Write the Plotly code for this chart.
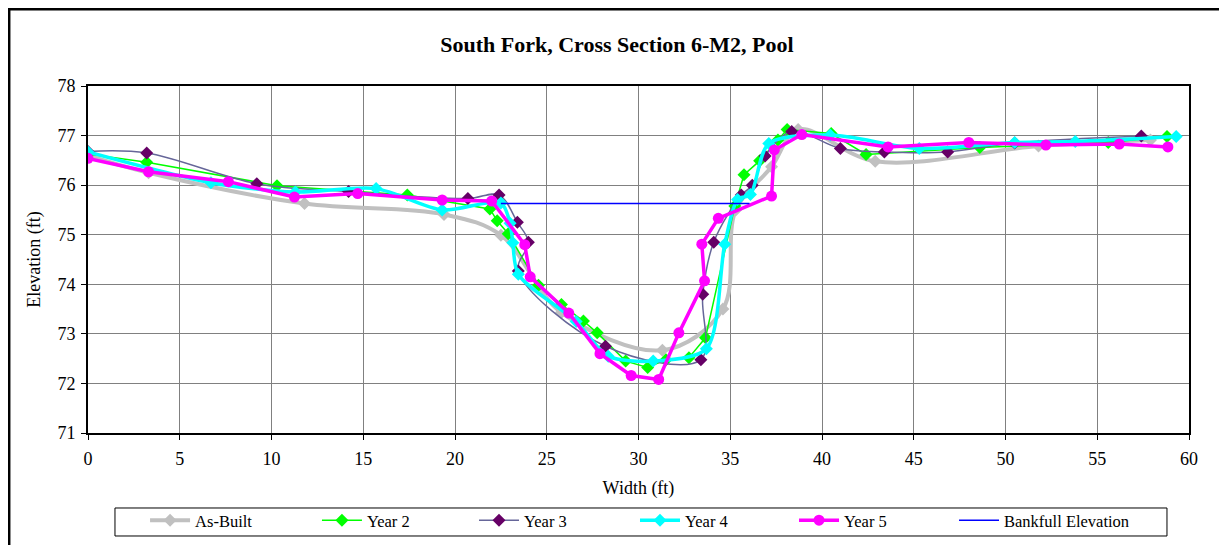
import plotly.graph_objects as go

# Cross section survey data (width ft, elevation ft)
asbuilt_x = [0, 3.3, 11.8, 19.4, 22.5, 25.8, 31.3, 34.6, 35.3, 37.25, 38.7, 42.9, 51.8, 57.9]
asbuilt_y = [76.6, 76.25, 75.63, 75.41, 74.99, 73.43, 72.67, 73.5, 75.5, 76.37, 77.12, 76.48, 76.79, 76.91]

year2_x = [0, 3.2, 10.3, 17.4, 21.9, 22.3, 22.9, 24.55, 25.8, 27.0, 27.75, 29.3, 30.5, 31.5,
           32.75, 33.65, 35.25, 35.75, 36.6, 37.6, 38.1, 40.5, 42.4, 48.6, 55.6, 58.8]
year2_y = [76.63, 76.46, 75.99, 75.8, 75.52, 75.28, 75.02, 73.98, 73.59, 73.26, 73.02, 72.45, 72.32, 72.48,
           72.52, 72.92, 75.58, 76.21, 76.49, 76.91, 77.12, 77.04, 76.62, 76.76, 76.86, 76.98]

year3_x = [0, 3.2, 9.2, 14.2, 20.7, 22.4, 23.4, 24.0, 23.45, 28.2, 33.4, 33.5, 34.1, 35.6,
           36.2, 36.9, 38.35, 41.0, 43.4, 46.85, 50.5, 57.4]
year3_y = [76.68, 76.65, 76.03, 75.87, 75.73, 75.8, 75.25, 74.85, 74.27, 72.75, 72.48, 73.8, 74.85, 75.8,
           76.0, 76.59, 77.08, 76.74, 76.67, 76.67, 76.85, 76.99]

year4_x = [0, 6.7, 11.3, 15.7, 19.3, 22.5, 23.0, 23.15, 23.45, 26.6, 28.35, 30.8, 33.7, 34.7,
           35.4, 36.1, 37.1, 40.45, 45.3, 50.5, 53.8, 59.3]
year4_y = [76.67, 76.05, 75.86, 75.93, 75.5, 75.64, 75.23, 74.84, 74.2, 73.25, 72.55, 72.45, 72.7, 74.81,
           75.71, 75.81, 76.84, 77.01, 76.74, 76.86, 76.88, 76.98]

year5_x = [0, 3.3, 7.65, 11.25, 14.7, 19.3, 22.0, 23.8, 24.1, 26.2, 27.9, 29.6, 31.1, 32.2,
           33.6, 33.45, 34.35, 37.25, 37.4, 38.9, 43.6, 48.0, 52.2, 56.2, 58.85]
year5_y = [76.54, 76.27, 76.07, 75.76, 75.83, 75.7, 75.68, 74.8, 74.15, 73.42, 72.6, 72.16, 72.08, 73.02,
           74.07, 74.81, 75.33, 75.78, 76.71, 77.02, 76.77, 76.86, 76.81, 76.83, 76.77]

bankfull_x = [22.5, 36.05]
bankfull_y = [75.63, 75.63]

FONT = "Liberation Serif"

fig = go.Figure()

fig.add_trace(go.Scatter(x=asbuilt_x, y=asbuilt_y, name="As-Built", mode="lines+markers",
                         line=dict(color="#C0C0C0", width=4, shape="spline", smoothing=1),
                         marker=dict(symbol="diamond", size=10, color="#C0C0C0"),
                         legend="legend"))
fig.add_trace(go.Scatter(x=year2_x, y=year2_y, name="Year 2", mode="lines+markers",
                         line=dict(color="#00FF00", width=1.5),
                         marker=dict(symbol="diamond", size=10, color="#00FF00"),
                         legend="legend2"))
fig.add_trace(go.Scatter(x=year3_x, y=year3_y, name="Year 3", mode="lines+markers",
                         line=dict(color="#666699", width=1.5, shape="spline", smoothing=1),
                         marker=dict(symbol="diamond", size=10, color="#660066"),
                         legend="legend3"))
fig.add_trace(go.Scatter(x=year4_x, y=year4_y, name="Year 4", mode="lines+markers",
                         line=dict(color="#00FFFF", width=3.5, shape="spline", smoothing=0.8),
                         marker=dict(symbol="diamond", size=10, color="#00FFFF"),
                         legend="legend4"))
fig.add_trace(go.Scatter(x=year5_x, y=year5_y, name="Year 5", mode="lines+markers",
                         line=dict(color="#FF00FF", width=3.5),
                         marker=dict(symbol="circle", size=11, color="#FF00FF"),
                         legend="legend5"))
fig.add_trace(go.Scatter(x=bankfull_x, y=bankfull_y, name="Bankfull Elevation", mode="lines",
                         line=dict(color="#0000FF", width=1.5),
                         legend="legend6"))

# outer chart border
fig.add_shape(type="rect", xref="paper", yref="paper",
              x0=-0.0718, x1=1.0327, y0=-0.45, y1=1.2219,
              line=dict(color="black", width=3), layer="below")
# legend box
fig.add_shape(type="rect", xref="paper", yref="paper",
              x0=0.0245, x1=0.98, y0=-0.2968, y1=-0.2161,
              line=dict(color="black", width=1), layer="below")


def legend_at(xc):
    return dict(orientation="h", x=xc, xref="container", xanchor="left",
                y=1 - 495 / 545, yref="container", yanchor="top",
                borderwidth=0, bgcolor="rgba(0,0,0,0)",
                font=dict(family=FONT, size=16.5), itemwidth=40)


fig.update_layout(
    width=1227, height=545,
    margin=dict(l=80, r=46, t=78, b=120, autoexpand=False),
    paper_bgcolor="white", plot_bgcolor="white",
    font=dict(family=FONT, size=18, color="black"),
    title=dict(text="<b>South Fork, Cross Section 6-M2, Pool</b>",
               x=0.4963, xref="container", xanchor="center",
               y=1 - 36 / 545, yref="container", yanchor="middle",
               font=dict(family=FONT, size=22, color="black")),
    showlegend=True,
    legend=legend_at(0.1117),
    legend2=legend_at(0.2518),
    legend3=legend_at(0.3798),
    legend4=legend_at(0.5110),
    legend5=legend_at(0.6406),
    legend6=legend_at(0.7710),
)

fig.update_xaxes(range=[0, 60], dtick=5, tick0=0,
                 showgrid=True, gridcolor="#808080", gridwidth=1,
                 showline=True, linecolor="black", linewidth=2, mirror=True,
                 ticks="outside", ticklen=5, tickcolor="black", ticklabelstandoff=3,
                 zeroline=False,
                 title=dict(text="Width (ft)", font=dict(family=FONT, size=18), standoff=14))
fig.update_yaxes(range=[71, 78], dtick=1, tick0=71,
                 showgrid=True, gridcolor="#808080", gridwidth=1,
                 showline=True, linecolor="black", linewidth=2, mirror=True,
                 ticks="outside", ticklen=5, tickcolor="black", ticklabelstandoff=2,
                 zeroline=False,
                 title=dict(text="Elevation (ft)", font=dict(family=FONT, size=18), standoff=12))

fig.write_html("out.html")
